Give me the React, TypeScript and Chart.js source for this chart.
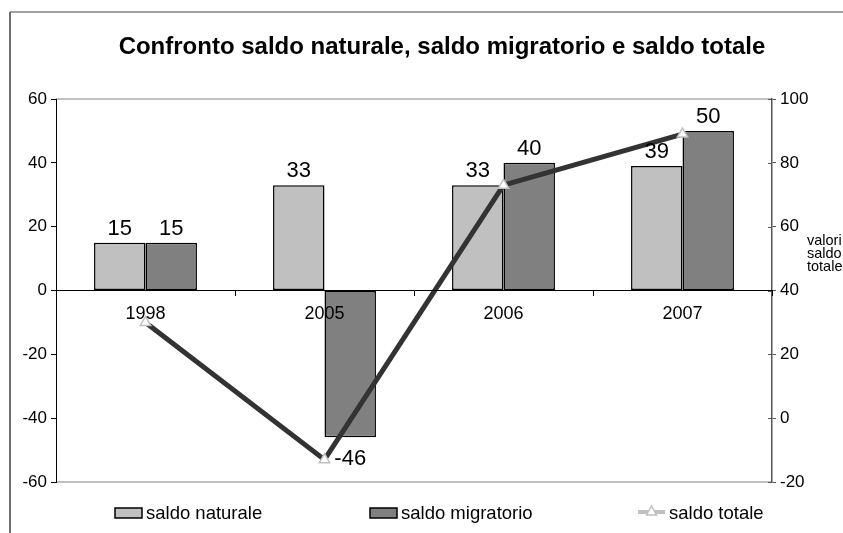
import React, { useEffect, useRef } from "react";
import { Chart, registerables } from "chart.js";

Chart.register(...registerables);

const categories = ["1998", "2005", "2006", "2007"];
const saldoNaturale = [15, 33, 33, 39];
const saldoMigratorio = [15, -46, 40, 50];
const saldoTotale = [30, -13, 73, 89];
const seriesNames = ["saldo naturale", "saldo migratorio", "saldo totale"];
const titleText = "Confronto saldo naturale, saldo migratorio e saldo totale";
const rightAxisTitle = ["valori", "saldo", "totale"];
const leftRange = { min: -60, max: 60, step: 20 };
const rightRange = { min: -20, max: 100, step: 20 };

const FONT = "Arial, 'Liberation Sans', sans-serif";

const decorPlugin = {
  id: "decor",
  beforeDraw(chart: any) {
    const { ctx, chartArea } = chart;
    ctx.save();
    ctx.fillStyle = "#ffffff";
    ctx.fillRect(0, 0, chart.width, chart.height);
    // outer frame
    ctx.lineWidth = 1.5;
    ctx.strokeStyle = "#808080";
    ctx.beginPath();
    ctx.moveTo(10, 12);
    ctx.lineTo(chart.width, 12);
    ctx.stroke();
    ctx.strokeStyle = "#404040";
    ctx.beginPath();
    ctx.moveTo(10, 12);
    ctx.lineTo(10, chart.height);
    ctx.stroke();
    // plot area top/bottom borders
    ctx.strokeStyle = "#c0c0c0";
    ctx.lineWidth = 2;
    ctx.beginPath();
    ctx.moveTo(chartArea.left, chartArea.top);
    ctx.lineTo(chartArea.right, chartArea.top);
    ctx.moveTo(chartArea.left, chartArea.bottom);
    ctx.lineTo(chartArea.right, chartArea.bottom);
    ctx.stroke();
    ctx.restore();
  },
  afterDraw(chart: any) {
    const { ctx, chartArea } = chart;
    ctx.save();
    // title
    ctx.fillStyle = "#000";
    ctx.font = `bold 24px ${FONT}`;
    ctx.textAlign = "center";
    ctx.textBaseline = "middle";
    ctx.fillText(titleText, 442, 47);

    // inner tick marks on right axis
    const y1 = chart.scales.y1;
    ctx.strokeStyle = "#555";
    ctx.lineWidth = 1;
    y1.ticks.forEach((t: any) => {
      const py = Math.round(y1.getPixelForValue(t.value)) + 0.5;
      ctx.beginPath();
      ctx.moveTo(chartArea.right - 4, py);
      ctx.lineTo(chartArea.right, py);
      ctx.stroke();
    });

    // right axis title
    ctx.fillStyle = "#000";
    ctx.font = `14.5px ${FONT}`;
    ctx.textAlign = "left";
    ctx.textBaseline = "middle";
    rightAxisTitle.forEach((s, i) => ctx.fillText(s, 807, 241 + i * 13));

    // legend
    ctx.font = `18.5px ${FONT}`;
    ctx.textBaseline = "middle";
    const ly = 514;
    ctx.lineWidth = 1.5;
    ctx.strokeStyle = "#000";
    ctx.fillStyle = "#c0c0c0";
    ctx.fillRect(115, 508, 27, 10);
    ctx.strokeRect(115, 508, 27, 10);
    ctx.fillStyle = "#808080";
    ctx.fillRect(370, 508, 27, 10);
    ctx.strokeRect(370, 508, 27, 10);
    ctx.fillStyle = "#000";
    ctx.fillText(seriesNames[0], 146, ly);
    ctx.fillText(seriesNames[1], 401, ly);
    ctx.strokeStyle = "#c0c0c0";
    ctx.lineWidth = 4;
    ctx.beginPath();
    ctx.moveTo(638, 512);
    ctx.lineTo(665, 512);
    ctx.stroke();
    ctx.fillStyle = "#ffffff";
    ctx.lineWidth = 1.5;
    ctx.beginPath();
    ctx.moveTo(651.5, 506);
    ctx.lineTo(656.5, 515);
    ctx.lineTo(646.5, 515);
    ctx.closePath();
    ctx.fill();
    ctx.stroke();
    ctx.fillStyle = "#000";
    ctx.fillText(seriesNames[2], 669, ly);

    // data labels for bars
    ctx.font = `22px ${FONT}`;
    ctx.textAlign = "center";
    ctx.textBaseline = "alphabetic";
    [0, 1].forEach((di) => {
      const meta = chart.getDatasetMeta(di);
      const vals = chart.data.datasets[di].data as number[];
      meta.data.forEach((el: any, i: number) => {
        const v = vals[i];
        const ty = v >= 0 ? el.y - 8 : el.y + 28;
        ctx.fillText(String(v), el.x, ty);
      });
    });
    ctx.restore();
  },
};

export default function App() {
  const ref = useRef<HTMLCanvasElement | null>(null);
  useEffect(() => {
    if (!ref.current) return;
    const chart = new Chart(ref.current, {
      type: "bar",
      data: {
        labels: categories,
        datasets: [
          {
            type: "bar",
            label: seriesNames[0],
            data: saldoNaturale,
            backgroundColor: "#c0c0c0",
            borderColor: "#000",
            borderWidth: 1.5,
            borderSkipped: false,
            categoryPercentage: 0.575,
            barPercentage: 1,
            yAxisID: "y",
            order: 2,
          },
          {
            type: "bar",
            label: seriesNames[1],
            data: saldoMigratorio,
            backgroundColor: "#808080",
            borderColor: "#000",
            borderWidth: 1.5,
            borderSkipped: false,
            categoryPercentage: 0.575,
            barPercentage: 1,
            yAxisID: "y",
            order: 2,
          },
          {
            type: "line",
            label: seriesNames[2],
            data: saldoTotale,
            borderColor: "#333333",
            borderWidth: 5,
            pointStyle: "triangle",
            pointRadius: 6,
            pointBackgroundColor: "#ffffff",
            pointBorderColor: "#c0c0c0",
            pointBorderWidth: 1.5,
            tension: 0,
            yAxisID: "y1",
            order: 0,
          } as any,
        ],
      },
      options: {
        responsive: false,
        animation: false,
        layout: { padding: { top: 99, bottom: 51, left: 0, right: 0 } },
        plugins: {
          legend: { display: false },
          title: { display: false },
          tooltip: { enabled: false },
        },
        scales: {
          x: {
            type: "category",
            position: { y: 0 } as any,
            grid: {
              display: true,
              drawOnChartArea: false,
              drawTicks: true,
              tickLength: 5,
              color: "#000",
              offset: true,
              z: 1,
            },
            border: { display: true, color: "#000", width: 1, z: 1 },
            ticks: {
              color: "#000",
              font: { family: FONT, size: 18 },
              padding: 8,
              maxRotation: 0,
              z: 1,
            },
          } as any,
          y: {
            position: "left",
            min: leftRange.min,
            max: leftRange.max,
            afterFit: (s: any) => {
              s.width = 56;
            },
            ticks: {
              stepSize: leftRange.step,
              color: "#000",
              font: { family: FONT, size: 17 },
              padding: 4,
            },
            grid: {
              drawOnChartArea: false,
              tickLength: 5,
              color: "#000",
            },
            border: { display: true, color: "#000", width: 1 },
          },
          y1: {
            position: "right",
            min: rightRange.min,
            max: rightRange.max,
            afterFit: (s: any) => {
              s.width = 71;
            },
            ticks: {
              stepSize: rightRange.step,
              color: "#000",
              font: { family: FONT, size: 17 },
              padding: 4,
            },
            grid: {
              drawOnChartArea: false,
              tickLength: 4,
              color: "#555",
            },
            border: { display: true, color: "#555", width: 1.5 },
          },
        },
      },
      plugins: [decorPlugin],
    });
    return () => chart.destroy();
  }, []);
  return (
    <div
      style={{
        position: "fixed",
        left: 0,
        top: 0,
        width: 843,
        height: 533,
        background: "#fff",
      }}
    >
      <canvas ref={ref} width={843} height={533} style={{ display: "block" }} />
    </div>
  );
}
